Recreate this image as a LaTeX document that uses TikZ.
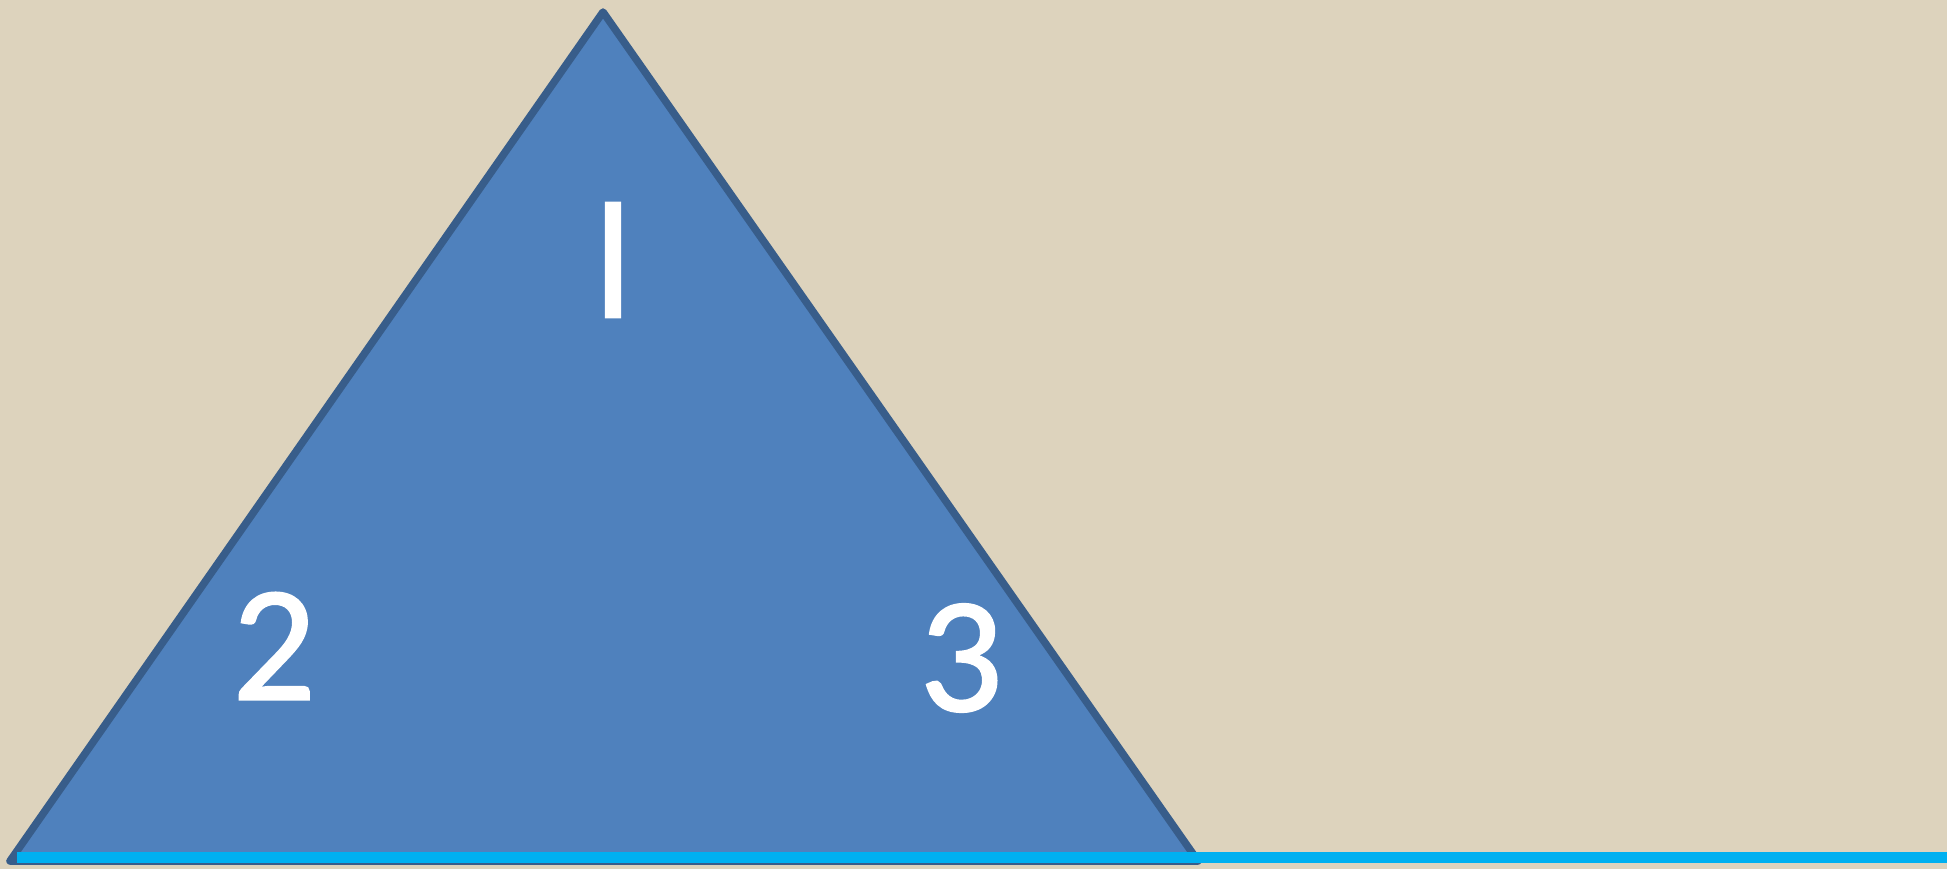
\documentclass[tikz,border=0pt]{standalone}
\usepackage{fontspec}
\setmainfont{Carlito}
\newfontfamily\digitfont[FakeBold=1.2]{Carlito}
\definecolor{bgbeige}{HTML}{DDD3BD}
\definecolor{trifill}{HTML}{4F81BD}
\definecolor{triline}{HTML}{385D8A}
\definecolor{cyanline}{HTML}{00B0F0}
\tikzset{
  digit/.style={text=white, font=\digitfont\fontsize{165}{165}\selectfont, inner sep=0pt, anchor=center},
}
\begin{document}
\begin{tikzpicture}[x=1pt,y=-1pt]
\fill[bgbeige] (0,0) rectangle (1947,869);
\useasboundingbox (0,0) rectangle (1947,869);
% triangle
\coordinate (apex) at (603,12);
\coordinate (bl) at (10,861);
\coordinate (br) at (1198,861);
\filldraw[fill=trifill, draw=triline, line width=7.5pt, line join=round] (apex) -- (bl) -- (br) -- cycle;
% cyan base line
\fill[cyanline] (17,852) rectangle (1947,863);
% labels
\node[digit] (one) at (613,260) {l};
\node[digit] (two) at (274,646) {2};
\node[digit] (three) at (961,658) {3};
\end{tikzpicture}
\end{document}
